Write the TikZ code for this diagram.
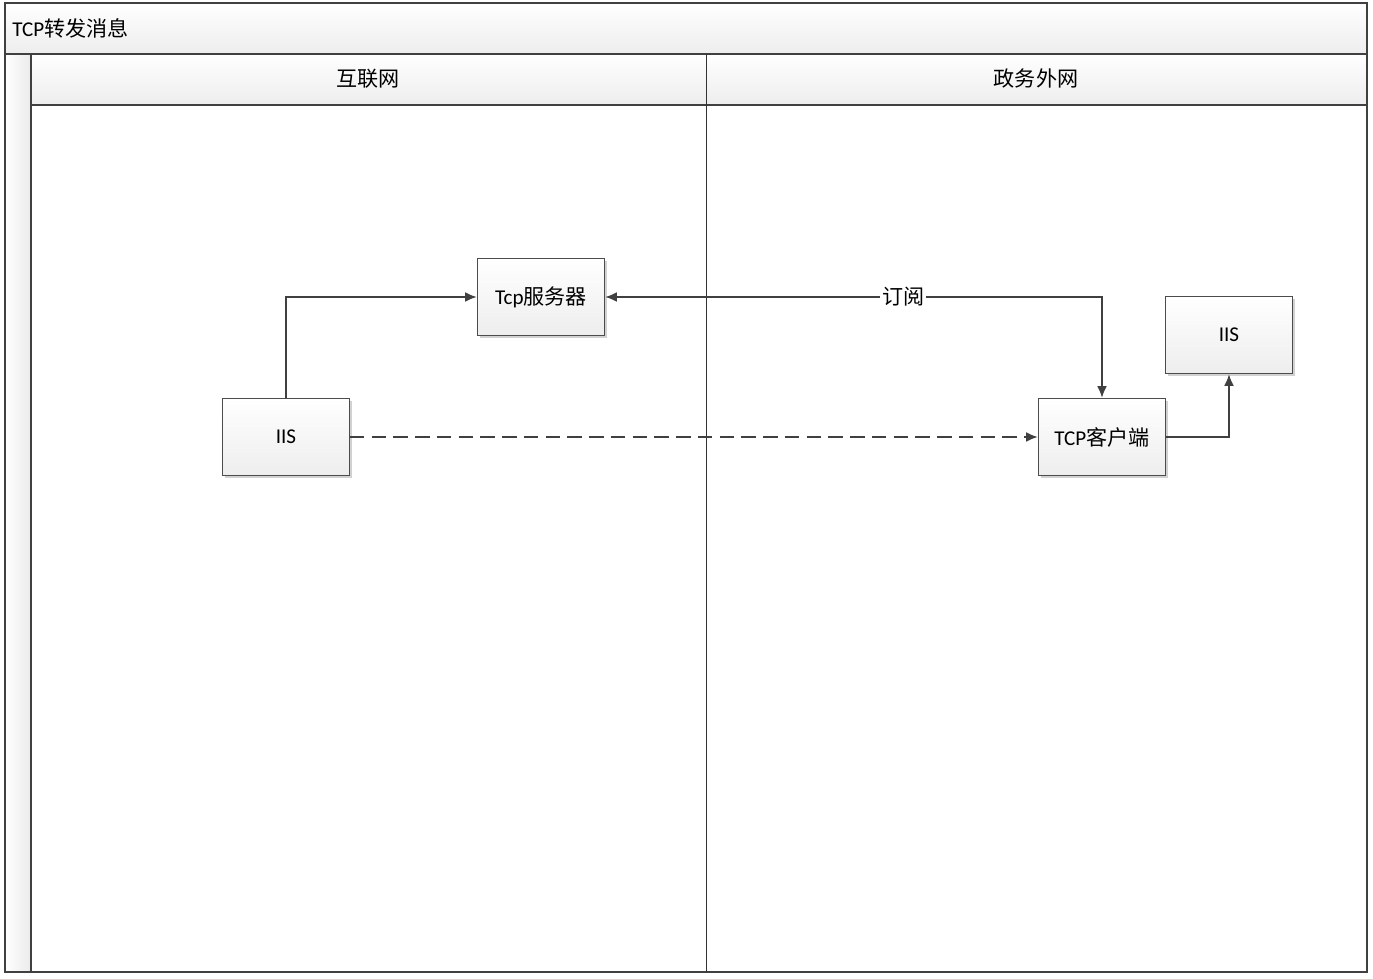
\documentclass[tikz,border=0pt]{standalone}
\usepackage{fontspec}
\setmainfont{Carlito}
\newfontfamily\cjk{Noto Sans CJK SC}
\usetikzlibrary{arrows.meta,shadows,calc}

\begin{document}
\begin{tikzpicture}[
x=0.02cm, y=-0.02cm,
font=\fontsize{12}{14}\selectfont,
frame/.style={
  draw=black!75,
  line width=0.8pt
  },
bar/.style={
  top color=white,
  bottom color=black!7
  },
box/.style={
  draw=black!70,
  line width=0.5pt,
  top color=white,
  bottom color=black!7,
  minimum width=2.54cm,
  minimum height=1.54cm,
  drop shadow={shadow xshift=0.05cm, shadow yshift=-0.05cm, fill=black!30, opacity=0.6}
  },
link/.style={
  draw=black!75,
  line width=1.3pt
  },
>={Latex[length=0.24cm,width=0.2cm]}
]
\useasboundingbox (0,0) rectangle (1373,979);
% pool and lanes
\shade[bar] (5,3) rectangle (1367,54);
\shade[bar] (31,54) rectangle (1367,105);
\shade[left color=white, right color=black!8] (5,54) rectangle (31,972);
\draw[frame] (5,3) rectangle (1367,972);
\draw[frame] (5,54) -- (1367,54);
\draw[frame] (31,105) -- (1367,105);
\draw[frame] (31,54) -- (31,972);
\draw[draw=black!80, line width=0.5pt] (706,54) -- (706,972);
\node[anchor=west, inner sep=0pt] (title) at (12,28) {TCP{\cjk 转发消息}};
\foreach \x/\t [count=\i] in {368/互联网, 1036/政务外网}
  \node (lane\i) at (\x,79) {\cjk \t};
% boxes
\node[box] (srv) at (541,297) {Tcp{\cjk 服务器}};
\node[box] (iis1) at (286,437) {IIS};
\node[box] (cli) at (1102,437) {TCP{\cjk 客户端}};
\node[box] (iis2) at (1229,335) {IIS};
% links
\draw[link,->] (iis1.north) |- (srv.west);
\draw[link,<->] (srv.east) -- node[pos=0.6, fill=white, inner sep=1pt] (sub) {\cjk 订阅} (srv.east -| cli) -- (cli.north);
\draw[link,->,dash pattern=on 0.29cm off 0.145cm] (iis1.east) -- (cli.west);
\draw[link,->] (cli.east) -| (iis2.south);
\end{tikzpicture}
\end{document}
